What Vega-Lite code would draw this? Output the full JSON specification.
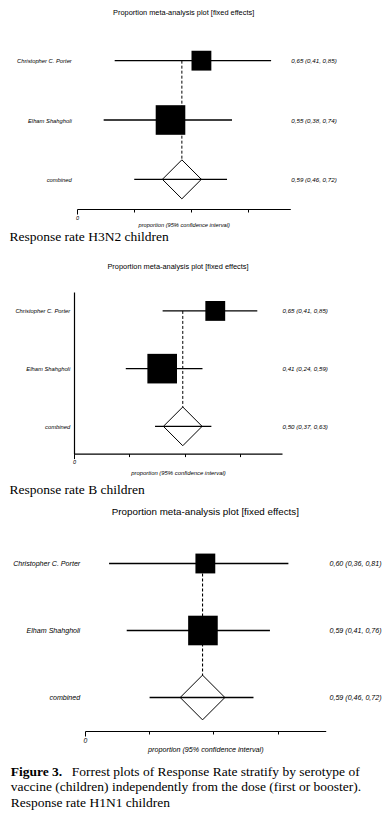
{
  "$schema": "https://vega.github.io/schema/vega-lite/v6.json",
  "background": "#ffffff",
  "padding": {"left": 0, "top": 8, "right": 0, "bottom": 0},
  "config": {"view": {"stroke": null}},
  "concat": [
    {
      "spacing": 0,
      "hconcat": [
        {"width": 1, "height": 1, "data": {"values": []}, "mark": "point", "encoding": {}},
        {
          "width": 213.3,
          "height": 178,
          "title": {"text": "Proportion meta-analysis plot [fixed effects]", "font": "Liberation Sans", "fontSize": 7.4, "fontWeight": "normal", "color": "#000000", "anchor": "middle", "frame": "group", "offset": 15},
          "data": {"values": [
            {"study": "Christopher C. Porter", "kind": "study", "est": 0.65, "lo": 0.406, "hi": 0.846, "w": 31, "ci": "0,65 (0,41, 0,85)"},
            {"study": "Elham Shahgholi", "kind": "study", "est": 0.563, "lo": 0.375, "hi": 0.736, "w": 69, "ci": "0,55 (0,38, 0,74)"},
            {"study": "combined", "kind": "pooled", "est": 0.595, "lo": 0.461, "hi": 0.722, "ci": "0,59 (0,46, 0,72)"}
          ]},
          "resolve": {"scale": {"y": "independent"}},
          "layer": [
            {
              "layer": [
                {
                  "transform": [{"filter": "datum.kind === 'pooled'"}],
                  "mark": {"type": "rule", "color": "#000000", "strokeWidth": 1, "strokeDash": [3, 2]},
                  "encoding": {
                    "x": {"field": "est", "type": "quantitative", "scale": {"domain": [0.3, 0.9], "nice": false, "zero": false}},
                    "y": {"datum": "Christopher C. Porter", "type": "nominal", "scale": {"type": "point", "padding": 0.5, "domain": ["Christopher C. Porter", "Elham Shahgholi", "combined"]}},
                    "y2": {"datum": "combined"}
                  }
                },
                {
                  "transform": [{"filter": "datum.kind === 'study'"}],
                  "mark": {"type": "point", "shape": "square", "filled": true, "color": "#000000", "opacity": 1},
                  "encoding": {
                    "x": {"field": "est", "type": "quantitative", "scale": {"domain": [0.3, 0.9], "nice": false, "zero": false}},
                    "y": {"field": "study", "type": "nominal", "scale": {"type": "point", "padding": 0.5, "domain": ["Christopher C. Porter", "Elham Shahgholi", "combined"]},
                      "axis": {"orient": "left", "title": null, "domain": false, "ticks": false, "tickSize": 0, "grid": false, "labelPadding": 5.7, "labelFont": "Liberation Sans", "labelFontStyle": "italic", "labelFontSize": 5.8, "labelColor": "#000000", "minExtent": 75.7, "maxExtent": 75.7}},
                    "size": {"field": "w", "type": "quantitative", "scale": {"domain": [0, 100], "range": [0, 1270]}, "legend": null}
                  }
                },
                {
                  "transform": [{"filter": "datum.kind === 'pooled'"}],
                  "mark": {"type": "point", "shape": "diamond", "filled": true, "fill": "#ffffff", "stroke": "#000000", "strokeWidth": 1, "size": 1520, "opacity": 1},
                  "encoding": {
                    "x": {"field": "est", "type": "quantitative", "scale": {"domain": [0.3, 0.9], "nice": false, "zero": false}},
                    "y": {"field": "study", "type": "nominal", "scale": {"type": "point", "padding": 0.5, "domain": ["Christopher C. Porter", "Elham Shahgholi", "combined"]}}
                  }
                }
              ]
            },
            {
              "mark": {"type": "rule", "color": "#000000", "strokeWidth": 1.3},
              "encoding": {
                "x": {"field": "lo", "type": "quantitative", "scale": {"domain": [0.3, 0.9], "nice": false, "zero": false},
                  "axis": {"orient": "bottom", "values": [0.3, 0.34, 0.38, 0.42, 0.46, 0.5, 0.54, 0.58, 0.62, 0.66, 0.7, 0.74, 0.78, 0.82, 0.86, 0.9],
                    "labelExpr": "abs((datum.value-0.3)/0.2-round((datum.value-0.3)/0.2))<0.01 ? (datum.value<0.35 ? '0' : '1') : ''",
                    "tickSize": {"condition": {"test": "abs((datum.value-0.3)/0.2-round((datum.value-0.3)/0.2))<0.01", "value": 5}, "value": 3},
                    "ticks": true, "tickColor": "#000000", "tickWidth": 1, "domain": true, "domainColor": "#000000", "domainWidth": 1.2, "grid": false,
                    "labelFont": "Liberation Sans", "labelFontStyle": "italic", "labelFontSize": 5.5, "labelColor": "#000000", "labelPadding": 1.3, "labelFlush": false, "labelOverlap": false,
                    "title": "proportion (95% confidence interval)", "titleFont": "Liberation Sans", "titleFontStyle": "italic", "titleFontWeight": "normal", "titleFontSize": 5.7, "titleColor": "#000000", "titlePadding": 0.5}},
                "x2": {"field": "hi"},
                "y": {"field": "ci", "type": "nominal", "sort": null, "scale": {"type": "point", "padding": 0.5},
                  "axis": {"orient": "right", "title": null, "domain": false, "ticks": false, "tickSize": 0, "grid": false, "labelPadding": 0.5, "labelFont": "Liberation Sans", "labelFontStyle": "italic", "labelFontSize": 6.2, "labelColor": "#000000"}}
              }
            }
          ]
        }
      ]
    },
    {
      "width": 19,
      "height": 34.4,
      "data": {"values": [{"line": 1, "text": "Response rate H3N2 children"}]},
      "mark": {"type": "text", "align": "left", "baseline": "alphabetic", "font": "Liberation Serif", "fontSize": 13.5, "color": "#000000"},
      "encoding": {
        "text": {"field": "text"},
        "y": {"field": "line", "type": "ordinal", "axis": null, "scale": {"type": "point", "padding": 0, "align": 0.398}}
      }
    },
    {
      "spacing": 0,
      "hconcat": [
        {"width": 1, "height": 1, "data": {"values": []}, "mark": "point", "encoding": {}},
        {
          "width": 208,
          "height": 161.6,
          "title": {"text": "Proportion meta-analysis plot [fixed effects]", "font": "Liberation Sans", "fontSize": 7.4, "fontWeight": "normal", "color": "#000000", "anchor": "middle", "frame": "group", "offset": 21.9},
          "data": {"values": [
            {"study": "Christopher C. Porter", "kind": "study", "est": 0.652, "lo": 0.409, "hi": 0.846, "w": 31, "ci": "0,65 (0,41, 0,85)"},
            {"study": "Elham Shahgholi", "kind": "study", "est": 0.407, "lo": 0.239, "hi": 0.593, "w": 69, "ci": "0,41 (0,24, 0,59)"},
            {"study": "combined", "kind": "pooled", "est": 0.502, "lo": 0.374, "hi": 0.634, "ci": "0,50 (0,37, 0,63)"}
          ]},
          "resolve": {"scale": {"y": "independent"}},
          "layer": [
            {
              "layer": [
                {
                  "transform": [{"filter": "datum.kind === 'pooled'"}],
                  "mark": {"type": "rule", "color": "#000000", "strokeWidth": 1, "strokeDash": [3, 2]},
                  "encoding": {
                    "x": {"field": "est", "type": "quantitative", "scale": {"domain": [0, 0.96], "nice": false, "zero": false}},
                    "y": {"datum": "Christopher C. Porter", "type": "nominal", "scale": {"type": "point", "padding": 0.4, "align": 0.41, "domain": ["Christopher C. Porter", "Elham Shahgholi", "combined"]}},
                    "y2": {"datum": "combined"}
                  }
                },
                {
                  "transform": [{"filter": "datum.kind === 'study'"}],
                  "mark": {"type": "point", "shape": "square", "filled": true, "color": "#000000", "opacity": 1},
                  "encoding": {
                    "x": {"field": "est", "type": "quantitative", "scale": {"domain": [0, 0.96], "nice": false, "zero": false}},
                    "y": {"field": "study", "type": "nominal", "scale": {"type": "point", "padding": 0.4, "align": 0.41, "domain": ["Christopher C. Porter", "Elham Shahgholi", "combined"]},
                      "axis": {"orient": "left", "title": null, "domain": true, "domainColor": "#000000", "domainWidth": 1.2, "ticks": false, "tickSize": 0, "grid": false, "labelPadding": 4.3, "labelFont": "Liberation Sans", "labelFontStyle": "italic", "labelFontSize": 5.8, "labelColor": "#000000", "minExtent": 72.3, "maxExtent": 72.3}},
                    "size": {"field": "w", "type": "quantitative", "scale": {"domain": [0, 100], "range": [0, 1220]}, "legend": null}
                  }
                },
                {
                  "transform": [{"filter": "datum.kind === 'pooled'"}],
                  "mark": {"type": "point", "shape": "diamond", "filled": true, "fill": "#ffffff", "stroke": "#000000", "strokeWidth": 1, "size": 1500, "opacity": 1},
                  "encoding": {
                    "x": {"field": "est", "type": "quantitative", "scale": {"domain": [0, 0.96], "nice": false, "zero": false}},
                    "y": {"field": "study", "type": "nominal", "scale": {"type": "point", "padding": 0.4, "align": 0.41, "domain": ["Christopher C. Porter", "Elham Shahgholi", "combined"]}}
                  }
                }
              ]
            },
            {
              "mark": {"type": "rule", "color": "#000000", "strokeWidth": 1.3},
              "encoding": {
                "x": {"field": "lo", "type": "quantitative", "scale": {"domain": [0, 0.96], "nice": false, "zero": false},
                  "axis": {"orient": "bottom", "values": [0, 0.032, 0.064, 0.096, 0.128, 0.16, 0.192, 0.224, 0.256, 0.288, 0.32, 0.352, 0.384, 0.416, 0.448, 0.48, 0.512, 0.544, 0.576, 0.608, 0.64, 0.672, 0.704, 0.736, 0.768, 0.8, 0.832, 0.864, 0.896, 0.928, 0.96],
                    "labelExpr": "abs(datum.value/0.16-round(datum.value/0.16))<0.01 ? (datum.value<0.56 ? '0' : '1') : ''",
                    "tickSize": {"condition": {"test": "abs(datum.value/0.16-round(datum.value/0.16))<0.01", "value": 5}, "value": 3},
                    "ticks": true, "tickColor": "#000000", "tickWidth": 1, "domain": true, "domainColor": "#000000", "domainWidth": 1.2, "grid": false,
                    "labelFont": "Liberation Sans", "labelFontStyle": "italic", "labelFontSize": 5.5, "labelColor": "#000000", "labelPadding": 1.3, "labelFlush": false, "labelOverlap": false,
                    "title": "proportion (95% confidence interval)", "titleFont": "Liberation Sans", "titleFontStyle": "italic", "titleFontWeight": "normal", "titleFontSize": 5.9, "titleColor": "#000000", "titlePadding": 3.7}},
                "x2": {"field": "hi"},
                "y": {"field": "ci", "type": "nominal", "sort": null, "scale": {"type": "point", "padding": 0.4, "align": 0.41},
                  "axis": {"orient": "right", "title": null, "domain": false, "ticks": false, "tickSize": 0, "grid": false, "labelPadding": 0, "labelFont": "Liberation Sans", "labelFontStyle": "italic", "labelFontSize": 6.2, "labelColor": "#000000"}}
              }
            }
          ]
        }
      ]
    },
    {
      "width": 19,
      "height": 31.5,
      "data": {"values": [{"line": 1, "text": "Response rate B children"}]},
      "mark": {"type": "text", "align": "left", "baseline": "alphabetic", "font": "Liberation Serif", "fontSize": 13.5, "color": "#000000"},
      "encoding": {
        "text": {"field": "text"},
        "y": {"field": "line", "type": "ordinal", "axis": null, "scale": {"type": "point", "padding": 0, "align": 0.597}}
      }
    },
    {
      "spacing": 0,
      "hconcat": [
        {"width": 1, "height": 1, "data": {"values": []}, "mark": "point", "encoding": {}},
        {
          "width": 240.7,
          "height": 201,
          "title": {"text": "Proportion meta-analysis plot [fixed effects]", "font": "Liberation Sans", "fontSize": 9.8, "fontWeight": "normal", "color": "#000000", "anchor": "middle", "frame": "group", "offset": 13.2},
          "data": {"values": [
            {"study": "Christopher C. Porter", "kind": "study", "est": 0.6, "lo": 0.36, "hi": 0.807, "w": 31, "ci": "0,60 (0,36, 0,81)"},
            {"study": "Elham Shahgholi", "kind": "study", "est": 0.594, "lo": 0.404, "hi": 0.761, "w": 69, "ci": "0,59 (0,41, 0,76)"},
            {"study": "combined", "kind": "pooled", "est": 0.593, "lo": 0.461, "hi": 0.72, "ci": "0,59 (0,46, 0,72)"}
          ]},
          "resolve": {"scale": {"y": "independent"}},
          "layer": [
            {
              "layer": [
                {
                  "transform": [{"filter": "datum.kind === 'pooled'"}],
                  "mark": {"type": "rule", "color": "#000000", "strokeWidth": 1.1, "strokeDash": [3, 2]},
                  "encoding": {
                    "x": {"field": "est", "type": "quantitative", "scale": {"domain": [0.3, 0.9], "nice": false, "zero": false}},
                    "y": {"datum": "Christopher C. Porter", "type": "nominal", "scale": {"type": "point", "padding": 0.5, "domain": ["Christopher C. Porter", "Elham Shahgholi", "combined"]}},
                    "y2": {"datum": "combined"}
                  }
                },
                {
                  "transform": [{"filter": "datum.kind === 'study'"}],
                  "mark": {"type": "point", "shape": "square", "filled": true, "color": "#000000", "opacity": 1},
                  "encoding": {
                    "x": {"field": "est", "type": "quantitative", "scale": {"domain": [0.3, 0.9], "nice": false, "zero": false}},
                    "y": {"field": "study", "type": "nominal", "scale": {"type": "point", "padding": 0.5, "domain": ["Christopher C. Porter", "Elham Shahgholi", "combined"]},
                      "axis": {"orient": "left", "title": null, "domain": false, "ticks": false, "tickSize": 0, "grid": false, "labelPadding": 5.3, "labelFont": "Liberation Sans", "labelFontStyle": "italic", "labelFontSize": 7.1, "labelColor": "#000000", "minExtent": 83.3, "maxExtent": 83.3}},
                    "size": {"field": "w", "type": "quantitative", "scale": {"domain": [0, 100], "range": [0, 1540]}, "legend": null}
                  }
                },
                {
                  "transform": [{"filter": "datum.kind === 'pooled'"}],
                  "mark": {"type": "point", "shape": "diamond", "filled": true, "fill": "#ffffff", "stroke": "#000000", "strokeWidth": 1, "size": 2000, "opacity": 1},
                  "encoding": {
                    "x": {"field": "est", "type": "quantitative", "scale": {"domain": [0.3, 0.9], "nice": false, "zero": false}},
                    "y": {"field": "study", "type": "nominal", "scale": {"type": "point", "padding": 0.5, "domain": ["Christopher C. Porter", "Elham Shahgholi", "combined"]}}
                  }
                }
              ]
            },
            {
              "mark": {"type": "rule", "color": "#000000", "strokeWidth": 1.4},
              "encoding": {
                "x": {"field": "lo", "type": "quantitative", "scale": {"domain": [0.3, 0.9], "nice": false, "zero": false},
                  "axis": {"orient": "bottom", "values": [0.3, 0.34, 0.38, 0.42, 0.46, 0.5, 0.54, 0.58, 0.62, 0.66, 0.7, 0.74, 0.78, 0.82, 0.86, 0.9],
                    "labelExpr": "abs((datum.value-0.3)/0.2-round((datum.value-0.3)/0.2))<0.01 ? (datum.value<0.35 ? '0' : '1') : ''",
                    "tickSize": {"condition": {"test": "abs((datum.value-0.3)/0.2-round((datum.value-0.3)/0.2))<0.01", "value": 5}, "value": 3},
                    "ticks": true, "tickColor": "#000000", "tickWidth": 1, "domain": true, "domainColor": "#000000", "domainWidth": 1.2, "grid": false,
                    "labelFont": "Liberation Sans", "labelFontStyle": "italic", "labelFontSize": 6.8, "labelColor": "#000000", "labelPadding": 1, "labelFlush": false, "labelOverlap": false,
                    "title": "proportion (95% confidence interval)", "titleFont": "Liberation Sans", "titleFontStyle": "italic", "titleFontWeight": "normal", "titleFontSize": 7.2, "titleColor": "#000000", "titlePadding": 1.7}},
                "x2": {"field": "hi"},
                "y": {"field": "ci", "type": "nominal", "sort": null, "scale": {"type": "point", "padding": 0.5},
                  "axis": {"orient": "right", "title": null, "domain": false, "ticks": false, "tickSize": 0, "grid": false, "labelPadding": 3.3, "labelFont": "Liberation Sans", "labelFontStyle": "italic", "labelFontSize": 7.1, "labelColor": "#000000"}}
              }
            }
          ]
        }
      ]
    },
    {
      "width": 21.4,
      "height": 62,
      "data": {"values": [
        {"line": 1, "part": "head", "text": "Figure 3."},
        {"line": 1, "part": "body", "text": "Forrest plots of  Response Rate stratify by serotype of"},
        {"line": 2, "part": "body", "text": "vaccine (children) independently from the dose (first or booster)."},
        {"line": 3, "part": "body", "text": "Response rate H1N1 children"}
      ]},
      "layer": [
        {
          "transform": [{"filter": "datum.part === 'head'"}],
          "mark": {"type": "text", "align": "left", "baseline": "alphabetic", "font": "Liberation Serif", "fontSize": 13.5, "fontWeight": "bold", "color": "#000000"},
          "encoding": {"text": {"field": "text"}, "y": {"field": "line", "type": "ordinal", "axis": null, "scale": {"type": "point", "padding": 1.109, "align": 0.73, "domain": [1, 2, 3]}}}
        },
        {
          "transform": [{"filter": "datum.part === 'body' && datum.line === 1"}],
          "mark": {"type": "text", "align": "left", "baseline": "alphabetic", "font": "Liberation Serif", "fontSize": 13.5, "color": "#000000", "dx": 61},
          "encoding": {"text": {"field": "text"}, "y": {"field": "line", "type": "ordinal", "axis": null, "scale": {"type": "point", "padding": 1.109, "align": 0.73, "domain": [1, 2, 3]}}}
        },
        {
          "transform": [{"filter": "datum.part === 'body' && datum.line > 1"}],
          "mark": {"type": "text", "align": "left", "baseline": "alphabetic", "font": "Liberation Serif", "fontSize": 13.5, "color": "#000000"},
          "encoding": {"text": {"field": "text"}, "y": {"field": "line", "type": "ordinal", "axis": null, "scale": {"type": "point", "padding": 1.109, "align": 0.73, "domain": [1, 2, 3]}}}
        }
      ]
    }
  ],
  "columns": 1,
  "spacing": 0,
  "bounds": "full"
}
